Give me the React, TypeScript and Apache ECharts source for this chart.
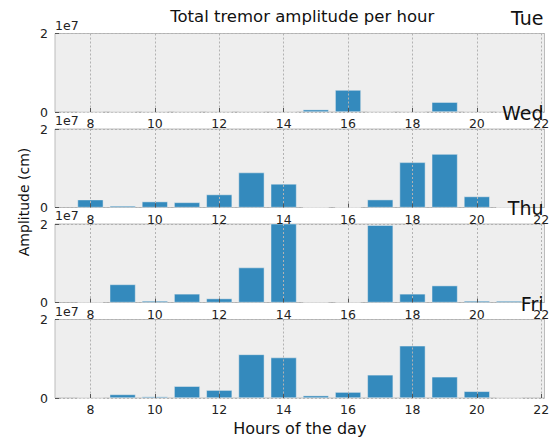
import React, { useEffect, useRef } from "react";
import * as echarts from "echarts";

const hours = [8, 9, 10, 11, 12, 13, 14, 15, 16, 17, 18, 19, 20, 21];
const days = ["Tue", "Wed", "Thu", "Fri"];
const tue = [30000, 50000, 50000, 30000, 30000, 30000, 30000, 600000, 5600000, 0, 0, 2500000, 30000, 0];
const wed = [2000000, 400000, 1500000, 1300000, 3300000, 8900000, 6000000, 0, 0, 2000000, 11500000, 13600000, 2800000, 0];
const thu = [100000, 4600000, 400000, 2200000, 1000000, 8900000, 23000000, 100000, 100000, 19700000, 2200000, 4300000, 400000, 400000];
const fri = [0, 900000, 350000, 3000000, 2000000, 11100000, 10300000, 600000, 1500000, 5900000, 13300000, 5400000, 1700000, 0];
const seriesValues = [tue, wed, thu, fri];
const xTicks = [8, 10, 12, 14, 16, 18, 20, 22];

const FONT = "DejaVu Sans";

export default function App() {
  const ref = useRef<HTMLDivElement>(null);
  useEffect(() => {
    if (!ref.current) return;
    const chart = echarts.init(ref.current, null, { renderer: "svg" });
    const tops = [33.5, 129, 224, 319.5];
    const left = 55;
    const width = 489.5;
    const height = 78.5;

    const grids = tops.map((t) => ({
      left,
      top: t,
      width,
      height,
      show: true,
      backgroundColor: "#eeeeee",
      borderColor: "#bcbcbc",
      borderWidth: 1,
      containLabel: false,
      outerBoundsMode: "none",
    }));

    const xAxes = tops.map((_, i) => ({
      type: "value",
      gridIndex: i,
      min: 6.9,
      max: 22.1,
      z: 3,
      axisLine: { show: false },
      axisTick: {
        show: true,
        inside: true,
        length: 4,
        customValues: xTicks,
        lineStyle: { color: "#555555", width: 1 },
      },
      axisLabel: {
        show: true,
        customValues: xTicks,
        margin: 5,
        fontFamily: FONT,
        fontSize: 12.5,
        color: "#222222",
        formatter: (v: number) => String(v),
      },
      splitLine: {
        show: true,
        lineStyle: { color: "#b2b2b2", width: 1, type: [2, 2] },
      },
    }));

    const yAxes = tops.map((_, i) => ({
      type: "value",
      gridIndex: i,
      min: 0,
      max: 20000000,
      interval: 20000000,
      axisLine: { show: false },
      axisTick: {
        show: true,
        inside: true,
        length: 4,
        lineStyle: { color: "#555555", width: 1 },
      },
      axisLabel: {
        show: true,
        margin: 7,
        fontFamily: FONT,
        fontSize: 12.5,
        color: "#222222",
        formatter: (v: number) => String(Math.round(v / 10000000)),
      },
      splitLine: {
        show: true,
        lineStyle: { color: "#b2b2b2", width: 1, type: [2, 2] },
      },
    }));

    const series = seriesValues.map((vals, i) => ({
      type: "bar",
      xAxisIndex: i,
      yAxisIndex: i,
      data: hours.map((h, k) => [h, vals[k]]),
      barWidth: 25.8,
      clip: true,
      itemStyle: { color: "#348ABD", borderColor: "#eeeeee", borderWidth: 0.5 },
    }));

    const centerX = left + width / 2;
    const graphic: any[] = [
      {
        type: "text",
        x: centerX + 2.5,
        y: 16,
        style: {
          text: "Total tremor amplitude per hour",
          font: `16.5px "${FONT}"`,
          fill: "#111111",
          align: "center",
          verticalAlign: "middle",
          textAlign: "center",
          textVerticalAlign: "middle",
        },
      },
      {
        type: "text",
        x: centerX,
        y: 428,
        style: {
          text: "Hours of the day",
          font: `16px "${FONT}"`,
          fill: "#111111",
          align: "center",
          verticalAlign: "middle",
          textAlign: "center",
          textVerticalAlign: "middle",
        },
      },
      {
        type: "text",
        x: 23.5,
        y: 202,
        rotation: Math.PI / 2,
        style: {
          text: "Amplitude (cm)",
          font: `14px "${FONT}"`,
          fill: "#111111",
          align: "center",
          verticalAlign: "middle",
          textAlign: "center",
          textVerticalAlign: "middle",
        },
      },
    ];
    tops.forEach((t, i) => {
      graphic.push({
        type: "text",
        x: left + width - 1,
        y: t - 16,
        z: 10,
        style: {
          text: days[i],
          font: `19px "${FONT}"`,
          fill: "#111111",
          align: "right",
          verticalAlign: "middle",
          textAlign: "right",
          textVerticalAlign: "middle",
        },
      });
      graphic.push({
        type: "text",
        x: left,
        y: t - 8.5,
        z: 10,
        style: {
          text: "1e7",
          font: `12.5px "${FONT}"`,
          fill: "#222222",
          align: "left",
          verticalAlign: "middle",
          textAlign: "left",
          textVerticalAlign: "middle",
        },
      });
    });

    chart.setOption({
      animation: false,
      backgroundColor: "#ffffff",
      grid: grids,
      xAxis: xAxes,
      yAxis: yAxes,
      series,
      graphic,
    } as any);
    return () => chart.dispose();
  }, []);
  return (
    <div
      ref={ref}
      style={{ position: "fixed", left: 0, top: 0, width: 557, height: 441 }}
    />
  );
}
